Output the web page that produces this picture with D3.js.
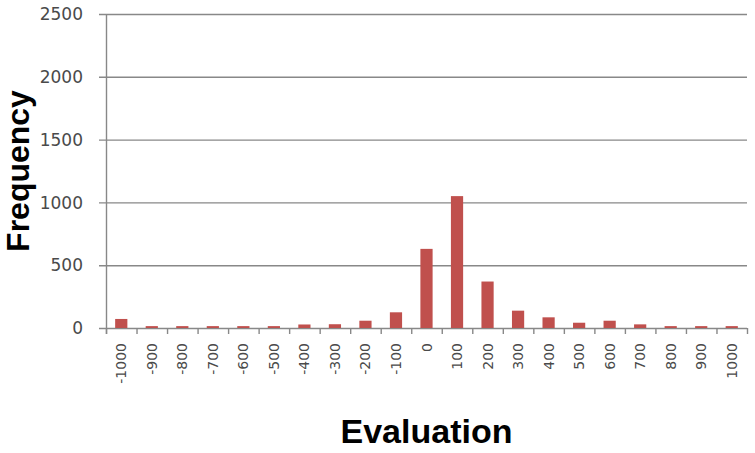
<!DOCTYPE html>
<html>
<head>
<meta charset="utf-8">
<script src="https://cdn.jsdelivr.net/npm/d3@7"></script>
<style>
  body { margin: 0; background: #fff; }
  svg text { font-family: "Liberation Sans", Arial, sans-serif; }
  .tick-label { font-family: "DejaVu Sans", sans-serif; }
</style>
</head>
<body>
<svg id="chart" width="755" height="453"></svg>
<script>
// categorías de evaluación y frecuencias
const evaluations = ["-1000", "-900", "-800", "-700", "-600", "-500", "-400", "-300", "-200", "-100",
                     "0", "100", "200", "300", "400", "500", "600", "700", "800", "900", "1000"];
const frequencies = [72, 15, 15, 15, 15, 15, 28, 30, 58, 125,
                     630, 1050, 370, 138, 85, 42, 58, 29, 15, 15, 15];
const yTicks = [0, 500, 1000, 1500, 2000, 2500];

const svg = d3.select("#chart");
const plotLeft = 106, plotRight = 747, plotTop = 14, plotBottom = 328;

const x = d3.scaleBand().domain(evaluations).range([plotLeft, plotRight]).paddingInner(0.6).paddingOuter(0.3);
const y = d3.scaleLinear().domain([0, 2500]).range([plotBottom, plotTop]);

// líneas de cuadrícula
svg.append("g")
   .selectAll("line")
   .data(yTicks)
   .join("line")
   .attr("x1", plotLeft - 7)
   .attr("x2", plotRight)
   .attr("y1", d => y(d) + 0.5)
   .attr("y2", d => y(d) + 0.5)
   .attr("stroke", "#888")
   .attr("stroke-width", 1.4);

// etiquetas del eje Y
svg.append("g")
   .selectAll("text")
   .data(yTicks)
   .join("text")
   .attr("class", "tick-label")
   .attr("x", 83)
   .attr("y", d => y(d))
   .attr("dy", "0.36em")
   .attr("text-anchor", "end")
   .attr("font-size", "17px")
   .attr("fill", "#4a4a4a")
   .text(d => d);

// eje Y
svg.append("line")
   .attr("x1", plotLeft + 0.5).attr("x2", plotLeft + 0.5)
   .attr("y1", plotTop).attr("y2", plotBottom + 6)
   .attr("stroke", "#888").attr("stroke-width", 1.4);

// barras
svg.append("g")
   .selectAll("rect")
   .data(frequencies)
   .join("rect")
   .attr("x", (d, i) => x(evaluations[i]))
   .attr("y", d => y(d))
   .attr("width", x.bandwidth())
   .attr("height", d => y(0) - y(d))
   .attr("fill", "#c0504d");

// marcas del eje X en los límites de categoría
const boundaries = d3.range(evaluations.length + 1)
                     .map(i => plotLeft + i * (plotRight - plotLeft) / evaluations.length);
svg.append("g")
   .selectAll("line")
   .data(boundaries)
   .join("line")
   .attr("x1", d => d + 0.5).attr("x2", d => d + 0.5)
   .attr("y1", plotBottom).attr("y2", plotBottom + 6)
   .attr("stroke", "#888").attr("stroke-width", 1.4);

// etiquetas del eje X, giradas
svg.append("g")
   .selectAll("text")
   .data(evaluations)
   .join("text")
   .attr("class", "tick-label")
   .attr("transform", d => `translate(${x(d) + x.bandwidth() / 2},343) rotate(-90)`)
   .attr("dy", "0.36em")
   .attr("text-anchor", "end")
   .attr("font-size", "14px")
   .attr("fill", "#4a4a4a")
   .text(d => d);

// títulos de los ejes
svg.append("text")
   .attr("x", (plotLeft + plotRight) / 2)
   .attr("y", 443)
   .attr("text-anchor", "middle")
   .attr("font-size", "34px")
   .attr("font-weight", "bold")
   .attr("fill", "#000")
   .text("Evaluation");

svg.append("text")
   .attr("transform", `translate(29,${(plotTop + plotBottom) / 2}) rotate(-90)`)
   .attr("text-anchor", "middle")
   .attr("font-size", "32px")
   .attr("font-weight", "bold")
   .attr("fill", "#000")
   .text("Frequency");
</script>
</body>
</html>
